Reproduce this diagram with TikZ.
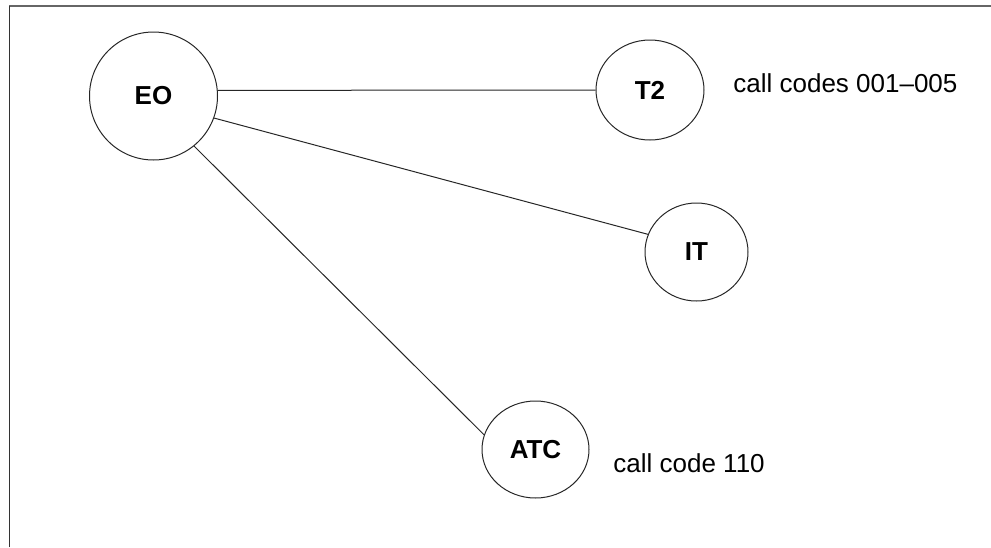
\documentclass[tikz,border=0pt]{standalone}
\usepackage{fontspec}
\setmainfont{Liberation Sans}
\usetikzlibrary{shapes.geometric}
\begin{document}
\begin{tikzpicture}[x=0.5pt,y=-0.5pt,
  station/.style={draw=black!85, line width=0.5pt, ellipse, inner sep=0pt, font=\fontsize{13}{15}\selectfont\bfseries},
  link/.style={draw=black!85, line width=0.5pt},
  note/.style={font=\fontsize{13}{15}\selectfont, anchor=base west, inner sep=0pt}]
\useasboundingbox (0,0) rectangle (991,547);
\draw[black!60, line width=0.7pt] (9.5,547) -- (9.5,6) -- (991,6);
\draw[black!80, line width=0.8pt] (9.5,547) -- (9.5,6);
\node[station, minimum width=64pt, minimum height=64pt] (EO) at (153.5,96) {EO};
\node[station, minimum width=54pt, minimum height=50pt] (T2) at (650,90) {T2};
\node[station, minimum width=51.5pt, minimum height=49pt] (IT) at (696.5,252) {IT};
\node[station, minimum width=53.5pt, minimum height=48.5pt] (ATC) at (535.5,449.5) {ATC};
\node[note] (n1) at (733,92) {call codes 001--005};
\node[note] (n2) at (613,472) {call code 110};
\draw[link] (EO.5) -- (T2.west);
\draw[link] (EO.-20) -- (IT.160);
\draw[link] (EO.-51) -- (ATC.164);
\end{tikzpicture}
\end{document}
